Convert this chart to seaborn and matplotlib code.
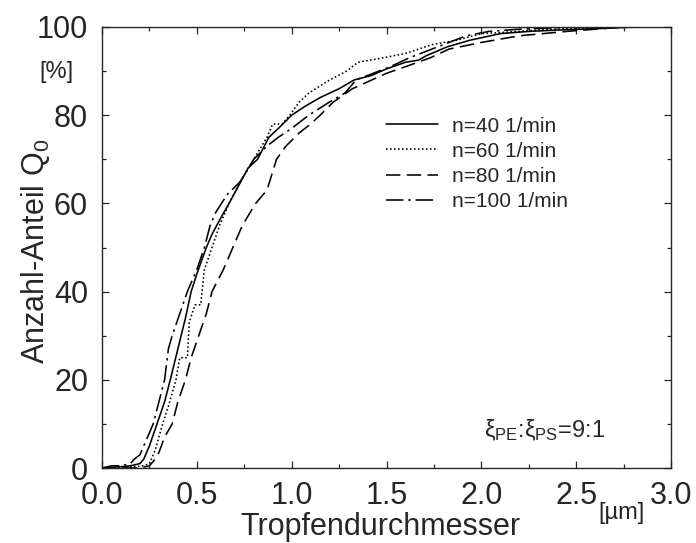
import numpy as np
import pandas as pd
import matplotlib
matplotlib.use("Agg")
import matplotlib.pyplot as plt
from matplotlib.ticker import MultipleLocator
import seaborn as sns

########################################################
# Data
########################################################

# droplet diameter [um] / cumulative number fraction Q0 [%]
x_n40 = [0.0, 0.1, 0.15, 0.2, 0.22, 0.25, 0.29, 0.33, 0.36, 0.4, 0.44, 0.47, 0.5,
         0.55, 0.58, 0.63, 0.67, 0.72, 0.77, 0.82, 0.88, 0.93, 1.0, 1.07, 1.15,
         1.25, 1.33, 1.42, 1.5, 1.6, 1.67, 1.71, 1.82, 1.94, 2.1, 2.25, 2.4, 2.6, 2.8, 2.95]
y_n40 = [0, 0.3, 0.5, 1, 2, 5, 10, 15, 20, 27, 34, 40, 44,
         50, 53, 57, 60, 64, 68, 70, 75, 77, 80, 82, 84,
         86, 88, 89, 90.5, 92, 92.5, 93.5, 95.5, 97, 98.5, 99, 99.3, 99.6, 100, 100]

x_n60 = [0.0, 0.15, 0.22, 0.25, 0.28, 0.32, 0.35, 0.39, 0.41, 0.45, 0.46, 0.49,
         0.52, 0.54, 0.58, 0.62, 0.67, 0.73, 0.8, 0.87, 0.9, 0.95, 0.99, 1.04,
         1.09, 1.2, 1.29, 1.35, 1.48, 1.6, 1.74, 1.87, 2.0, 2.2, 2.35, 2.6, 2.9]
y_n60 = [0, 0.2, 0.5, 1, 4, 10, 14, 20, 25, 25, 33, 37,
         37, 45, 50, 55, 60, 65, 70, 75, 78, 78, 80, 83,
         85, 88, 90, 92, 93, 94, 96, 97, 98.5, 99, 99.5, 99.8, 100]

x_n80 = [0.0, 0.2, 0.25, 0.28, 0.3, 0.33, 0.37, 0.4, 0.44, 0.47, 0.51, 0.55,
         0.58, 0.64, 0.69, 0.74, 0.81, 0.87, 0.92, 0.97, 1.04, 1.1, 1.15, 1.22,
         1.32, 1.5, 1.6, 1.73, 1.83, 2.0, 2.2, 2.45, 2.75, 2.95]
y_n80 = [0, 0, 0.5, 2, 3.5, 7, 10, 15, 20, 25, 30, 35,
         40, 45, 50, 55, 60, 63, 70, 73, 76, 78, 80, 83,
         86, 89.5, 91, 93, 95, 96.5, 98, 99, 100, 100]

x_n100 = [0.0, 0.05, 0.1, 0.15, 0.17, 0.2, 0.22, 0.25, 0.27, 0.3, 0.33, 0.35,
          0.37, 0.41, 0.45, 0.5, 0.54, 0.57, 0.6, 0.66, 0.73, 0.8, 0.87, 0.93,
          1.0, 1.09, 1.2, 1.28, 1.34, 1.52, 1.62, 1.8, 1.92, 2.04, 2.2, 2.5, 2.9]
y_n100 = [0, 0.5, 0.5, 1, 2, 3, 5, 8, 10, 15, 20, 27,
          30, 35, 40, 45, 50, 55, 58, 62, 65, 70, 73, 75,
          77, 80, 83, 85, 88, 91, 93, 96, 98, 99, 99.5, 100, 100]

labels = ["n=40 1/min", "n=60 1/min", "n=80 1/min", "n=100 1/min"]

########################################################
# Style
########################################################

sns.set_style("ticks")
plt.rcParams["font.family"] = ["Liberation Sans", "DejaVu Sans"]
plt.rcParams["mathtext.fontset"] = "custom"
plt.rcParams["mathtext.rm"] = "Liberation Sans"
plt.rcParams["mathtext.it"] = "Liberation Sans:italic"

line_styles = ["-", (0, (1, 1.5)), (0, (9, 4)), (0, (11, 3, 1.5, 3))]

########################################################
# Plot
########################################################

fig = plt.figure(figsize=(6.96, 5.43), dpi=100)
ax = fig.add_axes([102 / 696, 1 - 468 / 543, 569 / 696, 441 / 543])

series = [(x_n40, y_n40), (x_n60, y_n60), (x_n80, y_n80), (x_n100, y_n100)]
for (xs, ys), lab, ls in zip(series, labels, line_styles):
    df = pd.DataFrame({"d": xs, "Q0": ys})
    sns.lineplot(data=df, x="d", y="Q0", ax=ax, color="black", linewidth=1.15,
                 linestyle=ls, estimator=None, sort=False, label=lab)

ax.set_xlim(0, 3.0)
ax.set_ylim(0, 100)
ax.xaxis.set_major_locator(MultipleLocator(0.5))
ax.xaxis.set_minor_locator(MultipleLocator(0.25))
ax.yaxis.set_major_locator(MultipleLocator(20))
ax.yaxis.set_minor_locator(MultipleLocator(10))
ax.xaxis.set_major_formatter(plt.FormatStrFormatter("%.1f"))
ax.tick_params(which="both", direction="in", top=True, right=True, width=0.9)
ax.tick_params(which="major", length=5, labelsize=22)
ax.tick_params(axis="y", which="major", pad=10)
ax.tick_params(axis="x", which="major", pad=9)
ax.tick_params(which="minor", length=3)
for sp in ax.spines.values():
    sp.set_linewidth(1.0)

ax.set_xlabel("Tropfendurchmesser", fontsize=22)
ax.set_ylabel(r"Anzahl-Anteil Q$_{\mathrm{0}}$", fontsize=22)
ax.xaxis.set_label_coords(0.49, -0.1)
ax.yaxis.set_label_coords(-0.088, 0.492)

fig.text(56 / 696, 1 - 72 / 543, "[%]", fontsize=17, ha="center", va="center")
fig.text(622 / 696, 1 - 513 / 543, "[µm]", fontsize=17, ha="center", va="center")
ax.text(0.671, 0.07, r"$\mathrm{ξ}_{\mathrm{PE}}$:$\mathrm{ξ}_{\mathrm{PS}}$=9:1",
        transform=ax.transAxes, fontsize=17, ha="left", va="baseline")

ax.legend(loc="upper left", bbox_to_anchor=(0.499, 0.797), frameon=False,
          fontsize=15, handlelength=2.5, handletextpad=0.65, labelspacing=0.3,
          borderpad=0, borderaxespad=0)

fig.savefig("out.png", dpi=100)
